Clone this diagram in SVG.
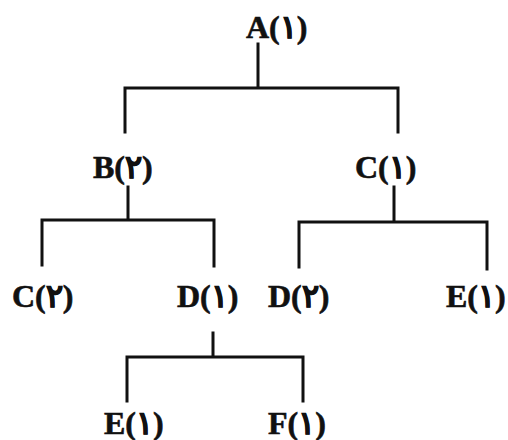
<svg xmlns="http://www.w3.org/2000/svg" width="508" height="440" viewBox="0 0 508 440">
<style>
.lbl{font-family:"Liberation Serif","DejaVu Serif",serif;font-weight:bold;font-size:32px;fill:#111;stroke:#111;stroke-width:0.6}
.ln{stroke:#111;stroke-width:3;fill:none;stroke-linecap:square}
</style>
<rect width="508" height="440" fill="#fff"/>
<g id="connectors" class="ln">
<path class="ln" d="M258,44V88M125,88H398M125,88V132M398,88V132"/>
<path class="ln" d="M128,187V220M42,220H214M42,220V265M214,220V266"/>
<path class="ln" d="M394,187V222M299,222H487M299,222V267M487,222V269"/>
<path class="ln" d="M213,333V357M127,357H303M127,357V401M303,357V401"/>
</g>
<g id="nA"><text class="lbl" x="246" y="38">A(١)</text></g>
<g id="nB"><text class="lbl" x="93" y="178">B(٢)</text></g>
<g id="nC1"><text class="lbl" x="355" y="178">C(١)</text></g>
<g id="nC2"><text class="lbl" x="12" y="307">C(٢)</text></g>
<g id="nD1"><text class="lbl" x="177" y="307">D(١)</text></g>
<g id="nD2"><text class="lbl" x="268" y="307">D(٢)</text></g>
<g id="nE1"><text class="lbl" x="446" y="307">E(١)</text></g>
<g id="nE2"><text class="lbl" x="104" y="434">E(١)</text></g>
<g id="nF"><text class="lbl" x="268" y="434">F(١)</text></g>
</svg>
